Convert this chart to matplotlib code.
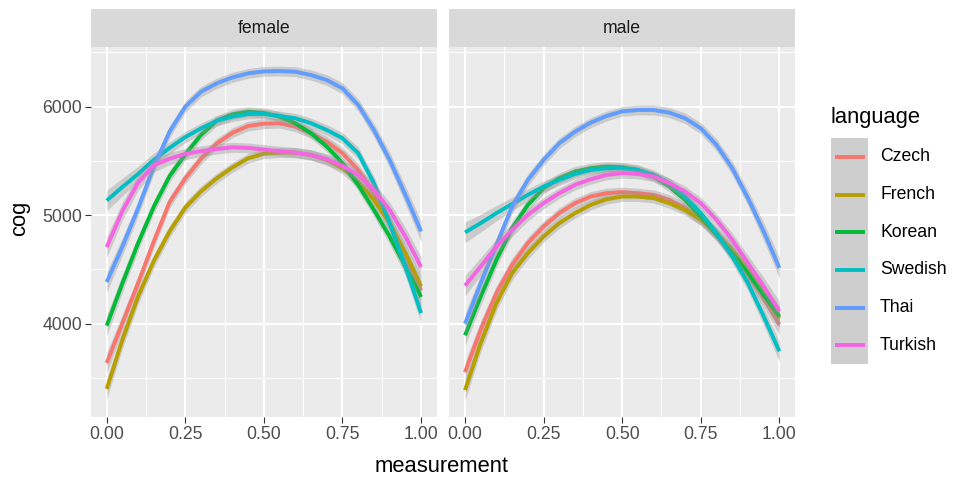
import matplotlib
matplotlib.use("Agg")
import matplotlib.pyplot as plt
from matplotlib.patches import Rectangle
from matplotlib.lines import Line2D
from matplotlib.ticker import FixedLocator

# ---------------- data ----------------
measurement = [0.00, 0.05, 0.10, 0.15, 0.20, 0.25, 0.30, 0.35, 0.40, 0.45, 0.50,
               0.55, 0.60, 0.65, 0.70, 0.75, 0.80, 0.85, 0.90, 0.95, 1.00]
languages = ["Czech", "French", "Korean", "Swedish", "Thai", "Turkish"]
sexes = ["female", "male"]

female_czech   = [3638, 4006, 4374, 4760, 5120, 5340, 5520, 5660, 5760, 5822, 5843,
                  5847, 5816, 5755, 5678, 5571, 5417, 5203, 4927, 4620, 4307]
female_french  = [3399, 3853, 4252, 4580, 4850, 5070, 5220, 5340, 5440, 5525, 5567,
                  5577, 5577, 5555, 5509, 5433, 5310, 5141, 4927, 4651, 4344]
female_korean  = [3982, 4374, 4743, 5080, 5360, 5560, 5740, 5870, 5930, 5954, 5942,
                  5908, 5847, 5755, 5632, 5479, 5279, 5049, 4804, 4528, 4246]
female_swedish = [5135, 5260, 5380, 5510, 5620, 5720, 5800, 5870, 5908, 5933, 5933,
                  5914, 5893, 5847, 5785, 5709, 5571, 5295, 4927, 4528, 4098]
female_thai    = [4384, 4712, 5064, 5448, 5770, 6000, 6138, 6215, 6270, 6307, 6325,
                  6328, 6322, 6291, 6245, 6169, 6015, 5785, 5509, 5187, 4850]
female_turkish = [4706, 5040, 5300, 5460, 5520, 5565, 5590, 5610, 5625, 5620, 5605,
                  5590, 5577, 5555, 5515, 5454, 5371, 5233, 5049, 4804, 4522]

male_czech   = [3553, 3945, 4282, 4543, 4743, 4896, 5019, 5111, 5172, 5203, 5213,
                5203, 5187, 5141, 5065, 4957, 4819, 4651, 4451, 4237, 3991]
male_french  = [3387, 3822, 4190, 4467, 4651, 4804, 4927, 5019, 5095, 5147, 5172,
                5172, 5157, 5111, 5049, 4957, 4835, 4681, 4498, 4283, 4050]
male_korean  = [3893, 4252, 4589, 4881, 5095, 5249, 5341, 5402, 5433, 5448, 5442,
                5417, 5356, 5264, 5141, 4988, 4819, 4651, 4467, 4267, 4068]
male_swedish = [4841, 4927, 5019, 5104, 5187, 5264, 5325, 5380, 5417, 5433, 5433,
                5417, 5371, 5295, 5172, 5019, 4835, 4620, 4374, 4068, 3746]
male_thai    = [4000, 4374, 4727, 5080, 5325, 5509, 5663, 5770, 5853, 5914, 5957,
                5969, 5969, 5945, 5893, 5801, 5647, 5433, 5157, 4850, 4513]
male_turkish = [4350, 4528, 4712, 4865, 5003, 5111, 5203, 5279, 5331, 5371, 5387,
                5380, 5356, 5295, 5218, 5111, 4957, 4773, 4559, 4344, 4114]

# approximate half-width of the confidence band at each measurement point
band_halfwidth = [95, 82, 70, 62, 56, 52, 49, 47, 46, 45, 45,
                  45, 46, 47, 49, 52, 56, 62, 70, 82, 95]

series = {
    "female": [female_czech, female_french, female_korean, female_swedish, female_thai, female_turkish],
    "male": [male_czech, male_french, male_korean, male_swedish, male_thai, male_turkish],
}

colors = ["#F8766D", "#B79F00", "#00BA38", "#00BFC4", "#619CFF", "#F564E3"]

# ---------------- figure ----------------
W, H = 957, 480
fig = plt.figure(figsize=(W / 100, H / 100), dpi=100)
FONT = "Liberation Sans"
plt.rcParams["font.family"] = [FONT, "DejaVu Sans"]

def fx(px):
    return px / W

def fy(py):
    return 1 - py / H

panel_left = [91.0, 449.3]
panel_w = 345.8
panel_top, panel_bot = 47.3, 416.7
strip_top = 9.0

for i, sex in enumerate(sexes):
    x0 = panel_left[i]
    ax = fig.add_axes([fx(x0), fy(panel_bot), panel_w / W, (panel_bot - panel_top) / H])
    ax.set_facecolor("#EBEBEB")
    for s in ax.spines.values():
        s.set_visible(False)
    ax.set_xlim(-0.05, 1.05)
    ax.set_ylim(3143, 6547)
    ax.xaxis.set_major_locator(FixedLocator([0, 0.25, 0.5, 0.75, 1.0]))
    ax.xaxis.set_minor_locator(FixedLocator([0.125, 0.375, 0.625, 0.875]))
    ax.yaxis.set_major_locator(FixedLocator([4000, 5000, 6000]))
    ax.yaxis.set_minor_locator(FixedLocator([3500, 4500, 5500, 6500]))
    ax.set_xticklabels(["0.00", "0.25", "0.50", "0.75", "1.00"])
    ax.grid(which="major", color="white", linewidth=1.5)
    ax.grid(which="minor", color="white", linewidth=0.75)
    ax.set_axisbelow(True)
    ax.tick_params(axis="both", which="major", length=4, width=0.8, color="#333333",
                   labelsize=12.7, labelcolor="#4D4D4D", pad=2.5)
    ax.tick_params(axis="both", which="minor", length=0)
    if i == 0:
        ax.set_yticklabels(["4000", "5000", "6000"])
    else:
        ax.tick_params(axis="y", which="both", left=False, labelleft=False)

    z = 2
    for lang, vals, col in zip(languages, series[sex], colors):
        lo = [v - h for v, h in zip(vals, band_halfwidth)]
        hi = [v + h for v, h in zip(vals, band_halfwidth)]
        ax.fill_between(measurement, lo, hi, color="#999999", alpha=0.4, linewidth=0, zorder=z)
        ax.plot(measurement, vals, color=col, linewidth=2.8, solid_capstyle="butt",
                solid_joinstyle="round", zorder=z + 1)
        z += 2

    # strip
    sax = fig.add_axes([fx(x0), fy(panel_top), panel_w / W, (panel_top - strip_top) / H])
    sax.set_facecolor("#D9D9D9")
    sax.set_xticks([])
    sax.set_yticks([])
    for s in sax.spines.values():
        s.set_visible(False)
    sax.text(0.5, 0.5, sex, transform=sax.transAxes, ha="center", va="center",
             fontsize=12.7, color="#1A1A1A")

# axis titles
fig.text(fx(442), fy(466), "measurement", ha="center", va="center", fontsize=15.8, color="black")
fig.text(fx(20), fy(218), "cog", ha="center", va="center", rotation=90, fontsize=15.8, color="black")

# legend (manual, ggplot style)
fig.text(fx(830), fy(117), "language", ha="left", va="center", fontsize=15.8, color="black")
key_top, key_h = 138.0, 37.7
key_x0, key_x1 = 831.0, 868.0
lax = fig.add_axes([0, 0, 1, 1], facecolor="none")
lax.set_xlim(0, W)
lax.set_ylim(H, 0)
lax.axis("off")
lax.add_patch(Rectangle((key_x0, key_top), key_x1 - key_x0, key_h * len(languages),
                        facecolor="#CECECE", edgecolor="none"))
for k, (lang, col) in enumerate(zip(languages, colors)):
    yc = key_top + key_h * (k + 0.5)
    lax.add_line(Line2D([key_x0 + 3.5, key_x1 - 3.5], [yc, yc], color=col, linewidth=2.8,
                        solid_capstyle="butt"))
    lax.text(880, yc, lang, ha="left", va="center", fontsize=12.7, color="black")

fig.savefig("out.png", dpi=100, facecolor="white")
